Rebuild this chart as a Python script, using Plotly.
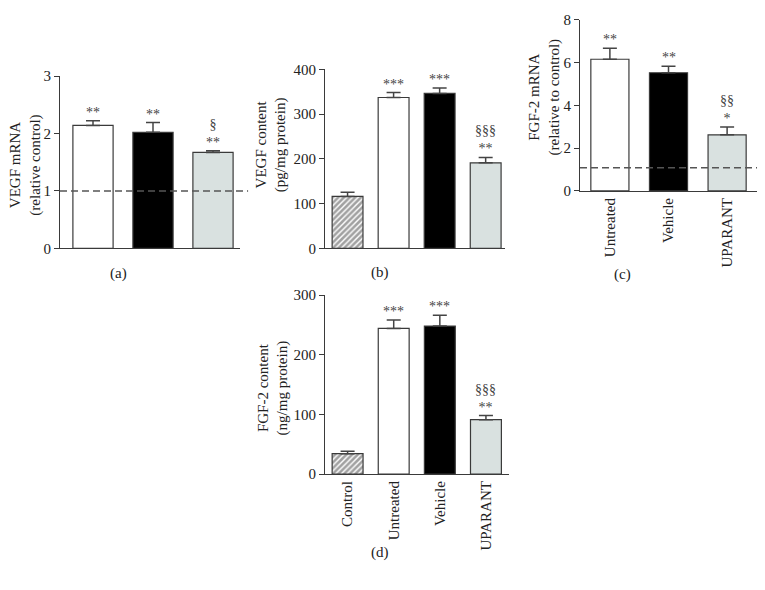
import plotly.graph_objects as go

W, H = 765, 590

# ---------------- data ----------------
cats_a = ["Untreated", "Vehicle", "UPARANT"]
vegf_mrna = [2.14, 2.02, 1.67]
vegf_mrna_sem = [0.08, 0.17, 0.03]
vegf_mrna_sig = ["**", "**", "§<br>**"]
ref_a = 1.0

cats_b = ["Control", "Untreated", "Vehicle", "UPARANT"]
vegf_content = [116, 337, 346, 191]
vegf_content_sem = [9, 11, 12, 12]
vegf_content_sig = ["", "***", "***", "§§§<br>**"]

cats_c = ["Untreated", "Vehicle", "UPARANT"]
fgf_mrna = [6.15, 5.52, 2.62]
fgf_mrna_sem = [0.52, 0.30, 0.36]
fgf_mrna_sig = ["**", "**", "§§<br>*"]
ref_c = 1.08

cats_d = ["Control", "Untreated", "Vehicle", "UPARANT"]
fgf_content = [34, 244, 248, 91]
fgf_content_sem = [4, 14, 18, 7]
fgf_content_sig = ["", "***", "***", "§§§<br>**"]

# ---------------- style ----------------
FONT = "Liberation Serif"
FS = 15
EDGE = "#3a3a3a"
GRAY = "#d9e1e0"
fill_map = {"Control": "white", "Untreated": "white", "Vehicle": "black", "UPARANT": GRAY}
patt_map = {"Control": "/", "Untreated": "", "Vehicle": "", "UPARANT": ""}

def px_x(a, b):
    return [a / W, b / W]

def px_y(top, bottom):
    return [1 - bottom / H, 1 - top / H]

panels = [
    dict(c=cats_a, v=vegf_mrna, e=vegf_mrna_sem, s=vegf_mrna_sig, xd=px_x(60, 240), yd=px_y(70, 247),
         xr=[-0.55, 2.45], yr=[0, 3], dt=1, t="VEGF mRNA<br>(relative control)", tx=26, ty=161,
         lab="(a)", lx=118, ly=273, xt=False, ref=ref_a, refx1=1.045, w=0.67),
    dict(c=cats_b, v=vegf_content, e=vegf_content_sem, s=vegf_content_sig, xd=px_x(325, 505), yd=px_y(63, 247),
         xr=[-0.49, 3.42], yr=[0, 400], dt=100, t="VEGF content<br>(pg/mg protein)", tx=271, ty=141,
         lab="(b)", lx=380, ly=272, xt=False, ref=None, refx1=1, w=0.67),
    dict(c=cats_c, v=fgf_mrna, e=fgf_mrna_sem, s=fgf_mrna_sig, xd=px_x(580, 757), yd=px_y(12, 188),
         xr=[-0.51, 2.51], yr=[0, 8], dt=2, t="FGF-2 mRNA<br>(relative to control)", tx=545, ty=92,
         lab="(c)", lx=622, ly=274, xt=True, ref=ref_c, refx1=1.0, w=0.65),
    dict(c=cats_d, v=fgf_content, e=fgf_content_sem, s=fgf_content_sig, xd=px_x(325, 509), yd=px_y(295, 479),
         xr=[-0.49, 3.5], yr=[0, 300], dt=100, t="FGF-2 content<br>(ng/mg protein)", tx=273, ty=391,
         lab="(d)", lx=380, ly=560, xt=True, ref=None, refx1=1, w=0.67),
]

fig = go.Figure()
annotations = []
shapes = []

for i, p in enumerate(panels):
    n = i + 1
    xa = "x" if n == 1 else f"x{n}"
    ya = "y" if n == 1 else f"y{n}"
    fig.add_trace(go.Bar(
        x=p["c"], y=p["v"], width=p["w"],
        xaxis=xa, yaxis=ya,
        marker=dict(color=[fill_map[c] for c in p["c"]],
                    line=dict(color=EDGE, width=1.2),
                    pattern=dict(shape=[patt_map[c] for c in p["c"]], fgcolor="#000",
                                 bgcolor="white", size=4, solidity=0.65)),
        error_y=dict(type="data", symmetric=False, array=p["e"], arrayminus=[0] * len(p["e"]),
                     color="#444", thickness=1.5, width=7),
        showlegend=False, hoverinfo="skip",
    ))
    axx = dict(domain=p["xd"], range=p["xr"], type="category", showline=True, linecolor=EDGE, linewidth=1.2,
               ticks="", showgrid=False, zeroline=False, anchor=ya, fixedrange=True,
               showticklabels=p["xt"], tickangle=-90,
               tickfont=dict(family=FONT, size=FS, color="#222"))
    axy = dict(domain=p["yd"], range=p["yr"], dtick=p["dt"], showline=True, linecolor=EDGE, linewidth=1.2,
               ticks="outside", ticklen=5, tickcolor=EDGE, tickwidth=1.2, showgrid=False, zeroline=False,
               anchor=xa, fixedrange=True, tickfont=dict(family=FONT, size=FS, color="#222"))
    fig.update_layout(**{("xaxis" if n == 1 else f"xaxis{n}"): axx,
                         ("yaxis" if n == 1 else f"yaxis{n}"): axy})
    for c, v, e, s in zip(p["c"], p["v"], p["e"], p["s"]):
        if s:
            annotations.append(dict(x=c, y=v + e, xref=xa, yref=ya, text=s, showarrow=False,
                                    yanchor="bottom", yshift=-1,
                                    font=dict(family=FONT, size=14, color="#444")))
    annotations.append(dict(x=p["tx"] / W, y=1 - p["ty"] / H, xref="paper", yref="paper", text=p["t"],
                            textangle=-90, showarrow=False, xanchor="center", yanchor="middle",
                            font=dict(family=FONT, size=FS, color="#222")))
    annotations.append(dict(x=p["lx"] / W, y=1 - p["ly"] / H, xref="paper", yref="paper", text=p["lab"],
                            showarrow=False, xanchor="center", yanchor="middle",
                            font=dict(family=FONT, size=FS, color="#222")))
    if p["ref"] is not None:
        shapes.append(dict(type="line", xref=f"{xa} domain", yref=ya, x0=0, x1=p["refx1"],
                           y0=p["ref"], y1=p["ref"], layer="above",
                           line=dict(color="#555", width=1.5, dash="7px,4px")))

fig.update_layout(width=W, height=H, margin=dict(l=0, r=0, t=0, b=0),
                  paper_bgcolor="white", plot_bgcolor="white",
                  annotations=annotations, shapes=shapes,
                  font=dict(family=FONT, size=FS, color="#222"))

fig.write_html("out.html", config={"displayModeBar": False},
               post_script="document.body.style.margin='0';document.body.style.overflow='hidden';")
